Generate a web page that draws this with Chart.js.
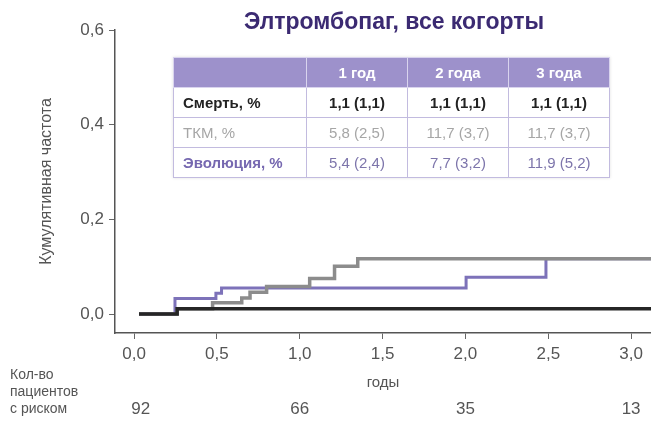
<!DOCTYPE html>
<html>
<head>
<meta charset="utf-8">
<script src="https://cdn.jsdelivr.net/npm/chart.js@4.4.1/dist/chart.umd.min.js"></script>
<style>
  html, body { margin: 0; padding: 0; background: #fff; }
  #wrap { position: relative; width: 651px; height: 421px; overflow: hidden; font-family: "Liberation Sans", Arial, sans-serif; }
  #title { position: absolute; left: 0; width: 788px; top: 8px; text-align: center; font-size: 23px; font-weight: bold; color: #3b2a72; }
  table { position: absolute; left: 173px; top: 57px; width: 432px; table-layout: fixed; border-collapse: collapse; background: #fff; font-size: 15px; box-shadow: 0 0 3px rgba(0,0,0,0.12); }
  td, th { border: 1.5px solid #c2bbdf; text-align: center; padding: 0; white-space: nowrap; }
  th { background: #9d91cb; color: #fff; height: 29px; border-color: #d9d4ee; }
  td { height: 29px; }
  td.lbl { text-align: left; padding-left: 9px; }
  tr.death td { color: #222; font-weight: bold; }
  tr.tkm td { color: #a6a6a6; }
  tr.evo td { color: #7d75ab; }
  tr.evo td.lbl { font-weight: bold; color: #7668b0; }
</style>
</head>
<body>
<div id="wrap">
  <canvas id="c" width="651" height="421"></canvas>
  <div id="title">Элтромбопаг, все когорты</div>
  <table id="tbl"></table>
</div>
<script>
// cumulative incidence, step points (time in years, value after the step)
const deathX = [0.03, 0.26, 3.12];
const deathY = [0, 0.011, 0.011];
const tkmX = [0.03, 0.26, 0.474, 0.65, 0.70, 0.80, 1.06, 1.21, 1.35, 3.12];
const tkmY = [0, 0.011, 0.024, 0.034, 0.046, 0.058, 0.075, 0.101, 0.117, 0.117];
const evoX = [0.03, 0.247, 0.494, 0.528, 2.004, 2.486, 3.12];
const evoY = [0, 0.033, 0.044, 0.055, 0.078, 0.117, 0.117];

const xTicks = [0, 0.5, 1, 1.5, 2, 2.5, 3];
const yTicks = [0, 0.2, 0.4, 0.6];

const riskTimes = [0.04, 1, 2, 3];
const riskCounts = [92, 66, 35, 13];

const tableCols = ['1 год', '2 года', '3 года'];
const tableRows = ['Смерть, %', 'ТКМ, %', 'Эволюция, %'];
const deathVals = ['1,1 (1,1)', '1,1 (1,1)', '1,1 (1,1)'];
const tkmVals = ['5,8 (2,5)', '11,7 (3,7)', '11,7 (3,7)'];
const evoVals = ['5,4 (2,4)', '7,7 (3,2)', '11,9 (5,2)'];

// table
const tbl = document.getElementById('tbl');
let html = '<tr><th style="width:132px"></th>' + tableCols.map(c => '<th style="width:100px">' + c + '</th>').join('') + '</tr>';
[['death', deathVals], ['tkm', tkmVals], ['evo', evoVals]].forEach((r, i) => {
  html += '<tr class="' + r[0] + '"><td class="lbl">' + tableRows[i] + '</td>' + r[1].map(v => '<td>' + v + '</td>').join('') + '</tr>';
});
tbl.innerHTML = html;

const pts = (xs, ys) => xs.map((x, i) => ({ x: x, y: ys[i] }));
const fmt = v => v.toFixed(1).replace('.', ',');
const FAM = '"Liberation Sans", Arial, sans-serif';
const tickFont = { family: FAM, size: 17 };

const riskPlugin = {
  id: 'risk',
  afterDraw(chart) {
    const ctx = chart.ctx;
    const xs = chart.scales.x;
    ctx.save();
    ctx.fillStyle = '#555';
    ctx.textBaseline = 'middle';
    ctx.font = '14px ' + FAM;
    ctx.textAlign = 'left';
    ctx.fillText('Кол-во', 10, 375);
    ctx.fillText('пациентов', 10, 392);
    ctx.fillText('с риском', 10, 409);
    ctx.font = '17px ' + FAM;
    ctx.textAlign = 'center';
    riskTimes.forEach((t, i) => {
      ctx.fillText(String(riskCounts[i]), xs.getPixelForValue(t), 409);
    });
    ctx.restore();
  }
};

new Chart(document.getElementById('c'), {
  type: 'line',
  data: {
    datasets: [
      { label: 'Смерть', data: pts(deathX, deathY), borderColor: '#262626', borderWidth: 3.5 },
      { label: 'ТКМ', data: pts(tkmX, tkmY), borderColor: '#8c8c8c', borderWidth: 3.5 },
      { label: 'Эволюция', data: pts(evoX, evoY), borderColor: '#7d72b9', borderWidth: 3 }
    ]
  },
  options: {
    responsive: false,
    animation: false,
    layout: { padding: { top: 30, right: 0, left: 0, bottom: 0 } },
    elements: { point: { radius: 0 }, line: { stepped: true, fill: false } },
    plugins: { legend: { display: false }, tooltip: { enabled: false } },
    scales: {
      x: {
        type: 'linear',
        min: -0.115,
        max: 3.12,
        afterFit: s => { s.height = 88; },
        afterBuildTicks: s => { s.ticks = xTicks.map(v => ({ value: v })); },
        grid: { drawOnChartArea: false, drawTicks: true, tickLength: 6, color: '#666' },
        border: { color: '#555', width: 1.5 },
        ticks: { color: '#555', font: tickFont, padding: 5, maxRotation: 0, callback: v => fmt(v) },
        title: { display: true, text: 'годы', color: '#555', font: { family: FAM, size: 15 }, padding: { top: 0, bottom: 29 } }
      },
      y: {
        type: 'linear',
        min: -0.04,
        max: 0.6,
        afterFit: s => { s.width = 115; },
        afterBuildTicks: s => { s.ticks = yTicks.map(v => ({ value: v })); },
        grid: { drawOnChartArea: false, drawTicks: true, tickLength: 6, color: '#666' },
        border: { color: '#555', width: 1.5 },
        ticks: { color: '#555', font: tickFont, padding: 5, callback: v => fmt(v) },
        title: { display: true, text: 'Кумулятивная частота', color: '#555', font: { family: FAM, size: 16 }, padding: { top: 37, bottom: 0 } }
      }
    }
  },
  plugins: [riskPlugin]
});
</script>
</body>
</html>
